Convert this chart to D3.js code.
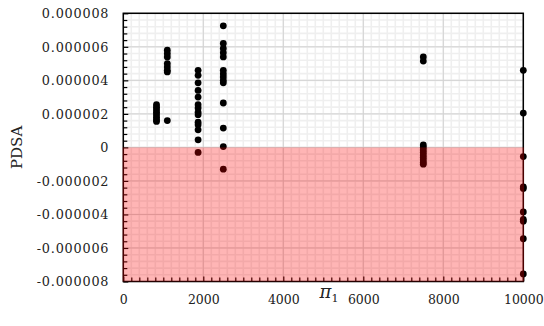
<!DOCTYPE html>
<html>
<head>
<meta charset="utf-8">
<script src="https://cdn.jsdelivr.net/npm/d3@7"></script>
<style>
  body { margin: 0; background: #fff; }
  svg { display: block; }
  text { font-family: "DejaVu Serif", serif; fill: #222; }
</style>
</head>
<body>
<figure id="chart" style="margin:0"></figure>
<script>
// pi_1 groups and PDSA values
const pi1 = [830, 1100, 1870, 2500, 7500, 10000];
const pdsa830 = [2.55e-6, 2.4e-6, 2.25e-6, 2.1e-6, 1.95e-6, 1.8e-6, 1.65e-6, 1.55e-6];
const pdsa1100 = [5.8e-6, 5.6e-6, 5.4e-6, 5.0e-6, 4.8e-6, 4.6e-6, 4.5e-6, 1.6e-6];
const pdsa1870 = [4.6e-6, 4.3e-6, 3.85e-6, 3.4e-6, 3.0e-6, 2.55e-6, 2.35e-6, 2.1e-6, 1.95e-6,
  1.5e-6, 1.35e-6, 1.05e-6, 0.45e-6, -0.3e-6];
const pdsa2500 = [7.25e-6, 6.2e-6, 5.9e-6, 5.65e-6, 5.4e-6, 4.6e-6, 4.4e-6, 4.2e-6, 4.0e-6,
  3.85e-6, 2.65e-6, 1.15e-6, 0.05e-6, -1.3e-6];
const pdsa7500 = [5.4e-6, 5.15e-6, 0.15e-6, 0.0, -0.15e-6, -0.3e-6, -0.45e-6, -0.6e-6,
  -0.75e-6, -0.9e-6, -1.0e-6];
const pdsa10000 = [4.6e-6, 2.05e-6, -0.55e-6, -2.35e-6, -2.45e-6, -3.85e-6, -4.3e-6,
  -4.4e-6, -5.45e-6, -7.55e-6];
const pdsaGroups = [pdsa830, pdsa1100, pdsa1870, pdsa2500, pdsa7500, pdsa10000];

const xTicks = [0, 2000, 4000, 6000, 8000, 10000];
const yTicks = [-8e-6, -6e-6, -4e-6, -2e-6, 0, 2e-6, 4e-6, 6e-6, 8e-6];
const yLabels = ["-0.000008", "-0.000006", "-0.000004", "-0.000002", "0",
  "0.000002", "0.000004", "0.000006", "0.000008"];

const W = 544, H = 326;
const margin = { top: 13.3, right: 20.7, bottom: 44.5, left: 123.3 };
const width = W - margin.left - margin.right;
const height = H - margin.top - margin.bottom;

const points = [];
pi1.forEach((p, i) => pdsaGroups[i].forEach(v => points.push({ x: p, y: v })));

const svg = d3.select("#chart").append("svg")
  .attr("width", W).attr("height", H);
const g = svg.append("g")
  .attr("transform", "translate(" + margin.left + "," + margin.top + ")");

const x = d3.scaleLinear().domain([0, 10000]).range([0, width]);
const y = d3.scaleLinear().domain([-8e-6, 8e-6]).range([height, 0]);

// minor grid
const xMinor = d3.range(0, 10001, 200);
const yMinor = d3.range(-40, 41).map(d => d * 0.2e-6);
g.append("g").selectAll("line").data(xMinor).enter().append("line")
  .attr("x1", d => x(d)).attr("x2", d => x(d)).attr("y1", 0).attr("y2", height)
  .attr("stroke", "#efefef").attr("stroke-width", 1.6);
g.append("g").selectAll("line").data(yMinor.filter((d, i) => i % 2 === 0)).enter().append("line")
  .attr("y1", d => y(d)).attr("y2", d => y(d)).attr("x1", 0).attr("x2", width)
  .attr("stroke", "#efefef").attr("stroke-width", 1.6);

// major grid
g.append("g").selectAll("line").data(xTicks).enter().append("line")
  .attr("x1", d => x(d)).attr("x2", d => x(d)).attr("y1", 0).attr("y2", height)
  .attr("stroke", "#d2d2d2").attr("stroke-width", 1);
g.append("g").selectAll("line").data(yTicks).enter().append("line")
  .attr("y1", d => y(d)).attr("y2", d => y(d)).attr("x1", 0).attr("x2", width)
  .attr("stroke", "#d2d2d2").attr("stroke-width", 1);

// dots
g.append("g").selectAll("circle").data(points).enter().append("circle")
  .attr("cx", d => x(d.x)).attr("cy", d => y(d.y)).attr("r", 3.4)
  .attr("fill", "#000");

// axes (ticks point inward)
const minorY = yMinor.filter((d, i) => i % 2 === 0 && i % 10 !== 0);
const minorX = xMinor.filter(d => d % 2000 !== 0);

g.append("g")
  .call(d3.axisLeft(y).tickValues(minorY).tickSize(-4).tickFormat(""))
  .call(a => a.select(".domain").remove());
g.append("g")
  .call(d3.axisBottom(x).tickValues(minorX).tickSize(-4).tickFormat(""))
  .attr("transform", "translate(0," + height + ")")
  .call(a => a.select(".domain").remove());

const yAxis = g.append("g")
  .call(d3.axisLeft(y).tickValues(yTicks).tickSize(-5).tickPadding(14)
    .tickFormat((d, i) => yLabels[i]));
yAxis.select(".domain").remove();
yAxis.selectAll("text").style("font-size", "12.8px").style("letter-spacing", "0.8px")
  .attr("dy", "0.35em");

const xAxis = g.append("g")
  .attr("transform", "translate(0," + height + ")")
  .call(d3.axisBottom(x).tickValues(xTicks).tickSize(-5).tickPadding(14)
    .tickFormat(d3.format("d")));
xAxis.select(".domain").remove();
xAxis.selectAll("text").style("font-size", "12.5px");

g.selectAll(".tick line").attr("stroke", "#000").attr("stroke-width", 1.2);

// plot frame
g.append("rect")
  .attr("x", 0).attr("y", 0).attr("width", width).attr("height", height)
  .attr("fill", "none").attr("stroke", "#000").attr("stroke-width", 1.5);

// negative zone overlay
g.append("rect")
  .attr("x", x(0) - 0.75).attr("y", y(0))
  .attr("width", x(10000) - x(0) + 1.5).attr("height", y(-8e-6) - y(0))
  .attr("fill", "rgba(255,0,0,0.29)");

// axis titles
svg.append("text")
  .attr("transform", "translate(22," + (margin.top + y(0)) + ") rotate(-90)")
  .attr("text-anchor", "middle")
  .style("font-size", "15px")
  .text("PDSA");

const xt = svg.append("text")
  .attr("x", 329).attr("y", 298)
  .attr("text-anchor", "middle")
  .style("font-size", "18px");
xt.append("tspan").style("font-style", "italic").text("π");
xt.append("tspan").attr("dy", 4).style("font-size", "11px").text("1");
</script>
</body>
</html>
